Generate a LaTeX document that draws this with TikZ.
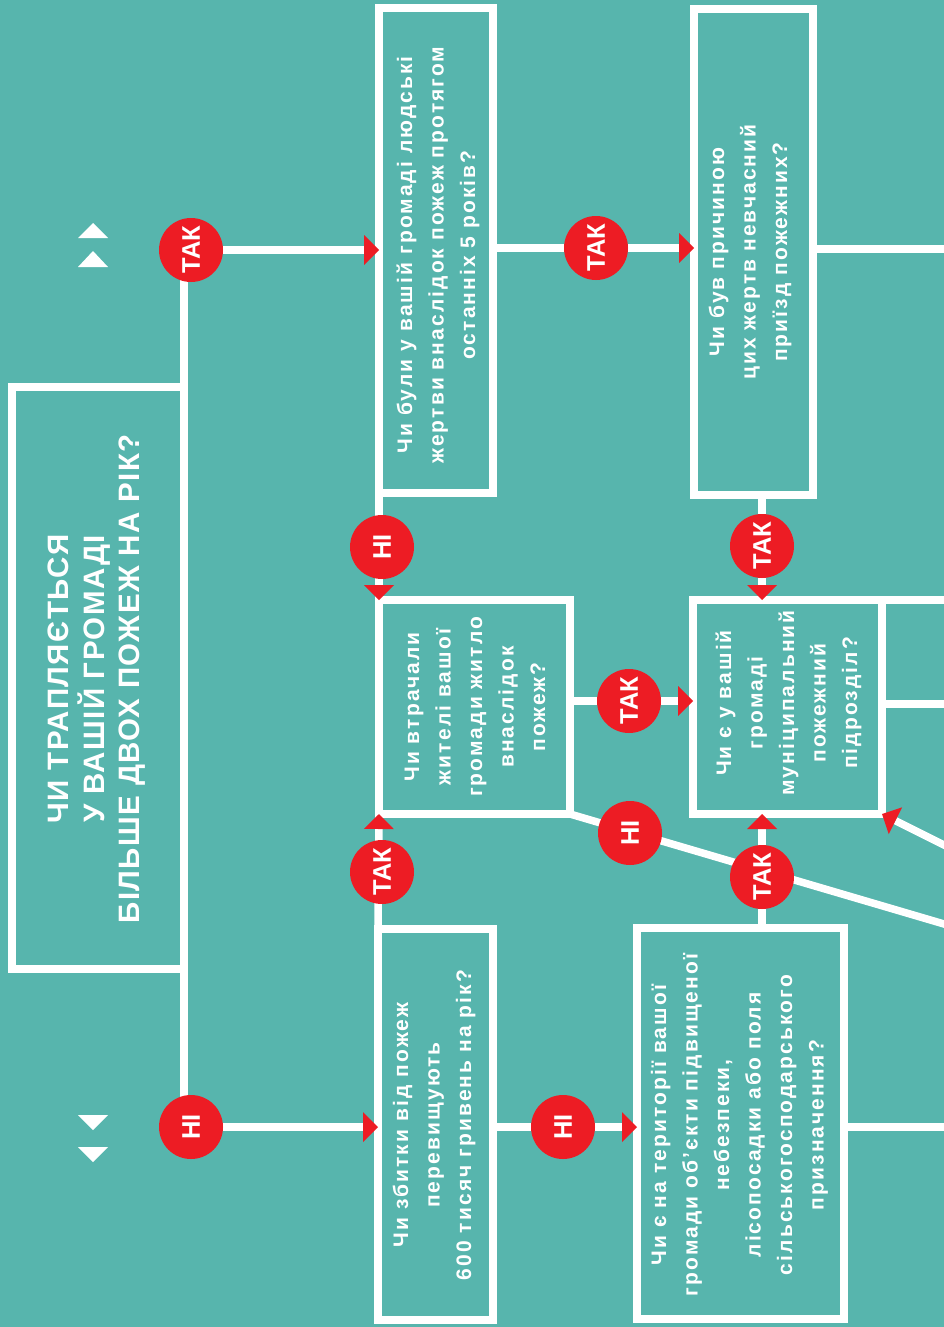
\documentclass[tikz,border=0pt]{standalone}
\usepackage{fontspec}
\usetikzlibrary{arrows.meta,calc}
\newfontfamily\lsans[LetterSpace=10]{Liberation Sans}
\newfontfamily\ltitle[LetterSpace=5]{Liberation Sans}
\newfontfamily\llab{Liberation Sans}
\definecolor{bgteal}{HTML}{57B5AD}
\definecolor{tred}{HTML}{ED1C24}
\pgfdeclarelayer{back}
\pgfdeclarelayer{bg}
\pgfsetlayers{back,bg,main}
\tikzset{
  qbox/.style={draw=white, line width=7.5pt, inner sep=0pt, outer sep=0pt, rectangle},
  qtext/.style={rotate=90, align=center, text=white, inner sep=0pt,
    font=\lsans\bfseries\fontsize{21}{31.5}\selectfont},
  ttext/.style={rotate=90, align=center, text=white, inner sep=0pt,
    font=\ltitle\bfseries\fontsize{29.5}{35.5}\selectfont},
  circ/.style={circle, fill=tred, minimum size=64pt, inner sep=0pt, text=white,
    rotate=90, font=\llab\bfseries\fontsize{25.5}{25.5}\selectfont},
  conn/.style={draw=white, line width=7.5pt},
  arr/.style={conn, -{Triangle[length=15pt,width=30pt,color=tred,line width=0pt]}},
  deco/.style={fill=white, draw=none}
}
\begin{document}
\begin{tikzpicture}[x=1pt,y=-1pt]
\useasboundingbox (0,0) rectangle (944,1327);
\begin{pgfonlayer}{back}
  \fill[bgteal] (0,0) rectangle (944,1327);
\end{pgfonlayer}
% boxes
\begin{pgfonlayer}{bg}
  \node[qbox, minimum width=172pt, minimum height=582pt] (title) at (98,678) {};
  \node[qbox, minimum width=114pt, minimum height=485pt] (b1) at (436,250.5) {};
  \node[qbox, minimum width=191pt, minimum height=214pt] (b2) at (474.5,707) {};
  \node[qbox, minimum width=115pt, minimum height=391pt] (b3) at (435.5,1124.5) {};
  \node[qbox, minimum width=207pt, minimum height=391pt] (b4) at (740.5,1123.5) {};
  \node[qbox, minimum width=189pt, minimum height=214pt] (b5) at (787.5,707) {};
  \node[qbox, minimum width=119pt, minimum height=486pt] (b6) at (753.5,252) {};
\end{pgfonlayer}
% texts
\node[ttext] (ttitle) at (97,679) {ЧИ ТРАПЛЯЄТЬСЯ\\У ВАШІЙ ГРОМАДІ\\БІЛЬШЕ ДВОХ ПОЖЕЖ НА РІК?};
\node[qtext] (t1) at (438,255) {Чи були у вашій громаді людські\\жертви внаслідок пожеж протягом\\останніх 5 років?};
\node[qtext] (t2) at (475,707) {Чи втрачали\\жителі вашої\\громади житло\\внаслідок\\пожеж?};
\node[qtext] (t3) at (434,1125) {Чи збитки від пожеж\\перевищують\\600 тисяч гривень на рік?};
\node[qtext] (t4) at (739.5,1125) {Чи є на території вашої\\громади об’єкти підвищеної\\небезпеки,\\лісопосадки або поля\\сільськогосподарського\\призначення?};
\node[qtext] (t5) at (788.5,703) {Чи є у вашій\\громаді\\муніципальний\\пожежний\\підрозділ?};
\node[qtext] (t6) at (750,252) {Чи був причиною\\цих жертв невчасний\\приїзд пожежних?};
% circles
\node[circ] (c1) at (191,250) {ТАК};
\node[circ] (c2) at (191,1127) {НІ};
\node[circ] (c3) at (382,547) {НІ};
\node[circ] (c4) at (382,872) {ТАК};
\node[circ] (c5) at (563,1127) {НІ};
\node[circ] (c6) at (596,248) {ТАК};
\node[circ] (c7) at (629,701) {ТАК};
\node[circ] (c8) at (630,833) {НІ};
\node[circ] (c9) at (762,877) {ТАК};
\node[circ] (c10) at (762,546) {ТАК};
% free ends at the right margin
\coordinate (e1) at (950,249);
\coordinate (e2) at (960,928.7);
\coordinate (e3) at (950,1127);
\coordinate (e4) at (950,600);
\coordinate (e5) at (950,704);
\coordinate (e6) at (960,853);
% connectors
\begin{pgfonlayer}{bg}
  \draw[conn] (title.north east) |- (c1);
  \draw[conn] (title.south east) |- (c2);
  \draw[arr] (c1) -- (c1 -| b1.west);
  \draw[arr] (c2) -- (c2 -| b3.west);
  \draw[arr] (b1.south west) -- (b2.north west);
  \draw[arr] (b3.north west) -- (b2.south west);
  \draw[arr] (b3.east |- c5) -- (b4.west |- c5);
  \draw[arr] (b1.east |- c6) -- (b6.west |- c6);
  \draw[conn] (b6.east |- e1) -- (e1);
  \draw[arr] (c10 |- b6.south) -- (c10 |- b5.north);
  \draw[arr] (b2.east |- c7) -- (b5.west |- c7);
  \draw[arr] (c9 |- b4.north) -- (c9 |- b5.south);
  \draw[conn] (b2.south east) -- (e2);
  \draw[conn] (b4.east |- e3) -- (e3);
  \draw[conn] (b5.north east) -- (e4);
  \draw[conn] (b5.east |- e5) -- (e5);
  \draw[arr] (e6) -- (b5.south east);
\end{pgfonlayer}
% decorative triangles
\fill[deco] (78,238) -- (108,238) -- (93,223) -- cycle;
\fill[deco] (78,267) -- (108,267) -- (93,251) -- cycle;
\fill[deco] (78,1115) -- (108,1115) -- (93,1130) -- cycle;
\fill[deco] (78,1147) -- (108,1147) -- (93,1162) -- cycle;
\end{tikzpicture}
\end{document}
